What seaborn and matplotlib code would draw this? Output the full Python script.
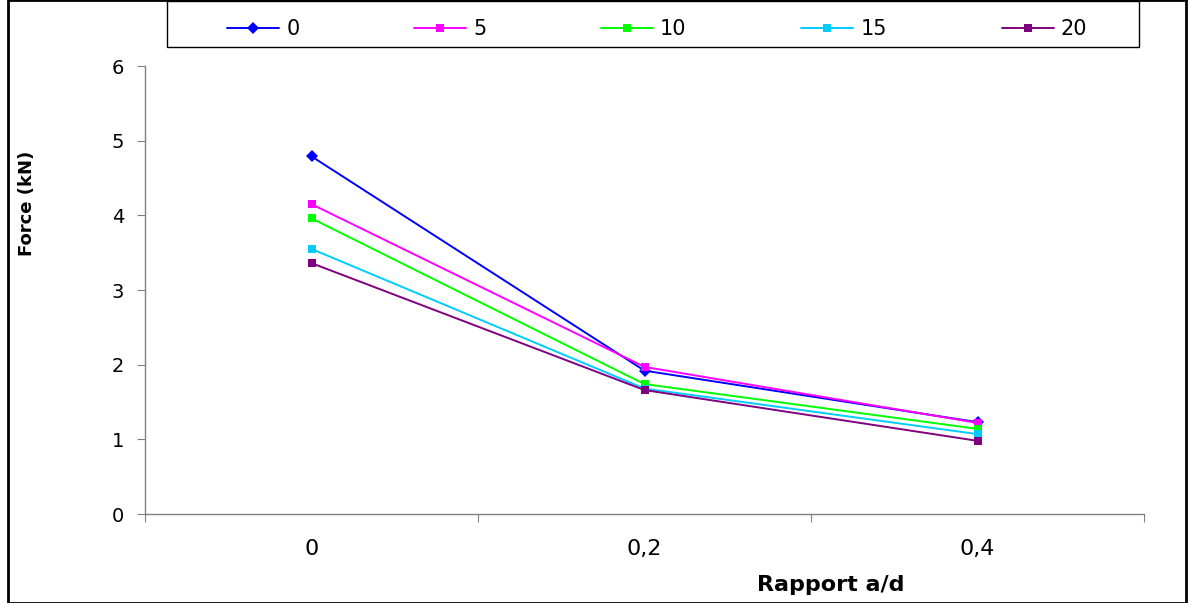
import matplotlib
matplotlib.use("Agg")
import matplotlib.pyplot as plt
import pandas as pd
import seaborn as sns
from matplotlib.patches import Rectangle

# data
ratios = ["0", "0,2", "0,4"]
series = ["0", "5", "10", "15", "20"]
force_0 = [4.79, 1.92, 1.23]
force_5 = [4.15, 1.97, 1.22]
force_10 = [3.96, 1.74, 1.14]
force_15 = [3.55, 1.68, 1.07]
force_20 = [3.36, 1.66, 0.98]

colors = ["#0000FF", "#FF00FF", "#00FF00", "#00CCFF", "#800080"]
marks = ["D", "s", "s", "s", "s"]

rows = []
for name, vals in zip(series, [force_0, force_5, force_10, force_15, force_20]):
    for i, v in enumerate(vals):
        rows.append({"pos": i, "serie": name, "force": v})
df = pd.DataFrame(rows)

sns.set_style("white")
plt.rcParams['font.family'] = ['DejaVu Sans']
plt.rcParams['text.color'] = 'black'
plt.rcParams['axes.labelcolor'] = 'black'
plt.rcParams['xtick.color'] = 'black'
plt.rcParams['ytick.color'] = 'black'

W, H = 1189, 603
fig = plt.figure(figsize=(W/100, H/100), dpi=100)
ax = fig.add_axes([145/W, 1-514/H, (1144-145)/W, (514-66)/H])

sns.lineplot(data=df, x="pos", y="force", hue="serie", style="serie",
             hue_order=series, style_order=series,
             palette=dict(zip(series, colors)), markers=dict(zip(series, marks)),
             dashes=False, markersize=6, markeredgewidth=0, linewidth=1.4, ax=ax)

ax.set_xlim(-0.5, 2.5)
ax.set_ylim(0, 6)
ax.set_yticks(range(7))
ax.set_xticks([-0.5, 0.5, 1.5, 2.5])
ax.set_xticklabels([])
ax.set_xticks([0, 1, 2], minor=True)
ax.set_xticklabels(ratios, minor=True, fontsize=16)
ax.tick_params(axis="x", which="major", length=6, color="#808080", direction="out", bottom=True)
ax.tick_params(axis="x", which="minor", length=0, pad=18, labelcolor="black")
ax.tick_params(axis="y", length=6, color="#808080", direction="out", left=True,
               labelsize=14, pad=9, labelcolor="black")

for s in ["top", "right"]:
    ax.spines[s].set_visible(False)
for s in ["left", "bottom"]:
    ax.spines[s].set_color("#808080")
    ax.spines[s].set_linewidth(1)

ax.set_ylabel("Force (kN)", fontsize=13, fontweight="bold", color="black")
ax.yaxis.set_label_coords(-0.109, 0.694)
ax.set_xlabel("Rapport a/d", fontsize=16, fontweight="bold", color="black")
ax.xaxis.set_label_coords(0.686, -0.137)

handles, labels = ax.get_legend_handles_labels()
ax.legend_.remove()
fig.legend(handles, labels, ncol=5, loc="center left",
           bbox_to_anchor=(227/W, 1-29/H), frameon=False,
           handlelength=2.5, handletextpad=0.34, columnspacing=5.5,
           borderpad=0, borderaxespad=0, fontsize=15, labelcolor="black")

# legend box and outer chart border
fig.patches.append(Rectangle((167/W, 1-47/H), (1139-167)/W, 46/H, transform=fig.transFigure,
                             fill=False, edgecolor="black", linewidth=1))
fig.patches.append(Rectangle((8/W, 0), (1186-8)/W, 1, transform=fig.transFigure,
                             fill=False, edgecolor="black", linewidth=2))

fig.savefig("out.png", dpi=100)
